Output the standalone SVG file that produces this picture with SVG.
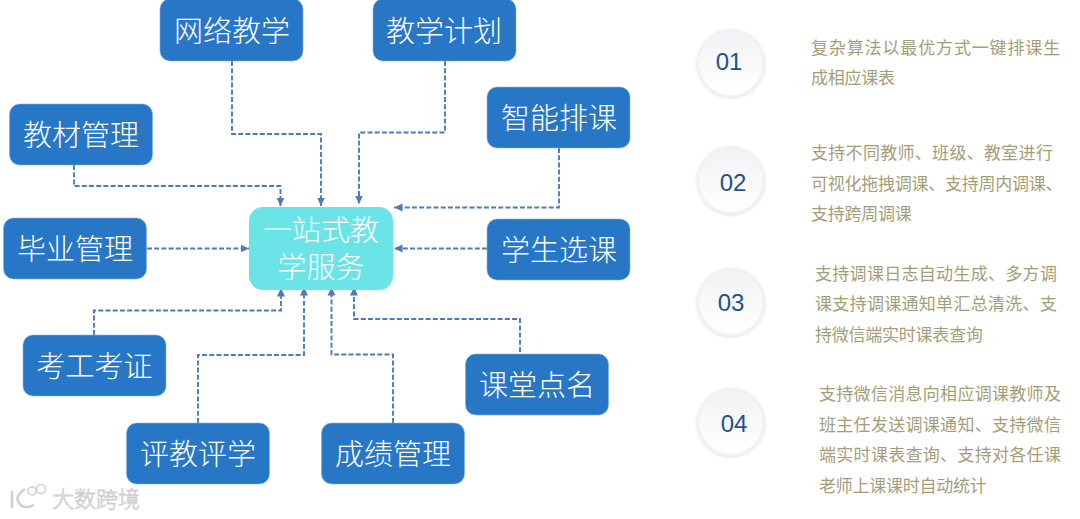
<svg xmlns="http://www.w3.org/2000/svg" width="1080" height="519" viewBox="0 0 1080 519">
<style>
text{font-family:"Noto Sans CJK SC","Noto Sans",sans-serif}
.box{fill:#2876c6;stroke:#7fb2e6;stroke-width:.6}
.hub{fill:#6be4e8}
.nt{fill:#fff;font-size:29px;text-anchor:middle;font-weight:300}
.c{fill:none;stroke:#4a7cb8;stroke-width:1.900;stroke-dasharray:5 2.200;marker-end:url(#a)}
.desc{fill:#a39e78;font-size:17px;letter-spacing:.3px}
.short{letter-spacing:-.25px}
.wide{letter-spacing:.86px}
.num{fill:#23508f;font-size:24px;text-anchor:middle;font-family:"Liberation Sans",sans-serif}
.disc{fill:url(#g);stroke:#f1f1f1;stroke-width:2;filter:url(#s)}
.wm{fill:#fff;stroke:#cfcfcf;stroke-width:.8;font-weight:300}
.wl{fill:none;stroke:#cfcfcf}
</style>
<defs>
<marker id="a" markerUnits="userSpaceOnUse" markerWidth="10" markerHeight="10" refX="8.500" refY="4.500" orient="auto"><path d="M0 .5L8.500 4.500L0 8.500Z" fill="#4a7cb8"/></marker>
<linearGradient id="g" x1="0" y1="0" x2="0" y2="1"><stop offset="0" stop-color="#f1f2f5"/><stop offset="1" stop-color="#fff"/></linearGradient>
<filter id="s" x="-20%" y="-20%" width="140%" height="140%"><feDropShadow dx="0" dy="1" stdDeviation="1.500" flood-color="#000" flood-opacity=".14"/></filter>
</defs>
<rect width="1080" height="519" fill="#fff"/>
<g id="connectors">
<path class="c" d="M232 61V134H321V206"/>
<path class="c" d="M445 61V132.500H359V204"/>
<path class="c" d="M559 148V207.500H394"/>
<path class="c" d="M74 165V186H280.500V206"/>
<path class="c" d="M147 248.500H249"/>
<path class="c" d="M487 248.500H394"/>
<path class="c" d="M94 335V310.500H281V288"/>
<path class="c" d="M198 423V355H304V287"/>
<path class="c" d="M393 423V354.500H331.500V287"/>
<path class="c" d="M520 352V319H354V287"/>
</g>
<g id="n1"><rect class="box" x="160" y="-1" width="143" height="62" rx="10"/><text class="nt" x="232" y="42">网络教学</text></g>
<g id="n2"><rect class="box" x="373" y="-1" width="143" height="62" rx="10"/><text class="nt" x="444" y="42">教学计划</text></g>
<g id="n3"><rect class="box" x="487" y="87" width="143" height="61" rx="10"/><text class="nt" x="559" y="129">智能排课</text></g>
<g id="n4"><rect class="box" x="9.500" y="104" width="143" height="61" rx="10"/><text class="nt" x="81" y="146">教材管理</text></g>
<g id="n5"><rect class="box" x="3.500" y="218" width="143" height="61" rx="10"/><text class="nt" x="75" y="260">毕业管理</text></g>
<g id="n6"><rect class="box" x="487" y="219" width="143" height="61" rx="10"/><text class="nt" x="559" y="261">学生选课</text></g>
<g id="hub"><rect class="hub" x="249" y="207" width="144" height="83" rx="14"/><text class="nt"><tspan x="321" y="241">一站式教</tspan><tspan x="321" y="278">学服务</tspan></text></g>
<g id="n7"><rect class="box" x="23" y="335" width="143" height="61" rx="10"/><text class="nt" x="94.500" y="377">考工考证</text></g>
<g id="n8"><rect class="box" x="126.500" y="423" width="143" height="61" rx="10"/><text class="nt" x="198" y="465">评教评学</text></g>
<g id="n9"><rect class="box" x="321.500" y="423" width="143" height="61" rx="10"/><text class="nt" x="393" y="465">成绩管理</text></g>
<g id="n10"><rect class="box" x="465.500" y="354" width="143" height="61" rx="10"/><text class="nt" x="537" y="396">课堂点名</text></g>
<g id="i1"><circle class="disc" cx="731" cy="63" r="33"/><text class="num" x="729" y="70">01</text>
<text class="desc wide" x="811" y="54">复杂算法以最优方式一键排课生</text><text class="desc short" x="811" y="84">成相应课表</text></g>
<g id="i2"><circle class="disc" cx="731" cy="180" r="33"/><text class="num" x="733" y="191">02</text>
<text class="desc" x="811" y="159">支持不同教师、班级、教室进行</text><text class="desc short" x="811" y="190">可视化拖拽调课、支持周内调课、</text><text class="desc short" x="811" y="220">支持跨周调课</text></g>
<g id="i3"><circle class="disc" cx="731" cy="302" r="33"/><text class="num" x="731" y="311">03</text>
<text class="desc" x="815" y="280">支持调课日志自动生成、多方调</text><text class="desc" x="815" y="310">课支持调课通知单汇总清洗、支</text><text class="desc short" x="815" y="341">持微信端实时课表查询</text></g>
<g id="i4"><circle class="disc" cx="731" cy="422" r="33"/><text class="num" x="734" y="432">04</text>
<text class="desc" x="819" y="400">支持微信消息向相应调课教师及</text><text class="desc" x="819" y="431">班主任发送调课通知、支持微信</text><text class="desc" x="819" y="461">端实时课表查询、支持对各任课</text><text class="desc short" x="819" y="492">老师上课课时自动统计</text></g>
<g id="watermark">
<path class="wl" stroke-width="2.500" d="M12 491V508M25 489Q14 497 19 503Q24 510 34 505"/>
<circle class="wl" stroke-width="1.500" cx="32" cy="491" r="4"/><circle class="wl" stroke-width="1.500" cx="41" cy="489" r="4.500"/>
<text class="wm" x="52" y="507" font-size="22">大数跨境</text>
</g>
</svg>
